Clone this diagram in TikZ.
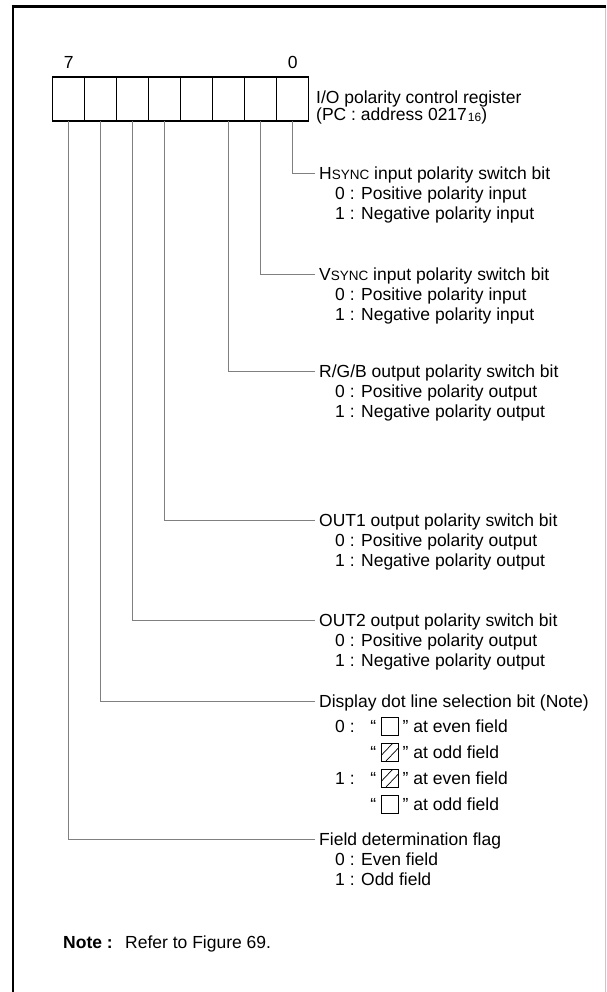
\documentclass[tikz,border=0pt]{standalone}
\usepackage{fontspec}
\setmainfont{Liberation Sans}
\usetikzlibrary{positioning,calc}
\definecolor{pcLead}{HTML}{808080}
\definecolor{pcEdge}{HTML}{C8C8C8}
\newcommand{\pcsc}[1]{{\fontsize{13.5}{20}\selectfont #1}}
\tikzset{
  bitcell/.style={draw, line width=1.4pt, minimum width=32pt, minimum height=44pt,
    inner sep=0pt, outer sep=0pt},
  bitnum/.style={inner sep=0pt, text height=12.5pt, text depth=0pt,
    font=\fontsize{17.5}{20}\selectfont},
  lbl/.style={anchor=west, inner xsep=4pt, inner ysep=0pt, text height=12.5pt,
    text depth=0pt, font=\fontsize{17.5}{20}\selectfont},
  lead/.style={draw=pcLead, line width=0.9pt},
  chip/.style={draw, line width=1pt, minimum width=17pt, minimum height=18pt,
    inner sep=0pt},
  chiphatch/.style={chip, path picture={
      \draw[line width=0.7pt]
        ($(path picture bounding box.south west)+(0pt,5.4pt)$) --
        ($(path picture bounding box.north west)+(12pt,0pt)$)
        ($(path picture bounding box.south west)+(5pt,0pt)$) --
        ($(path picture bounding box.south east)+(0pt,12.6pt)$);}}
}
\begin{document}
\begin{tikzpicture}[x=1pt, y=-1pt]
  \useasboundingbox (0,0) rectangle (606,992);
  % frame
  \draw[line width=3pt] (11.7,6.5) -- (606,6.5);
  \draw[line width=2.5pt] (13,5) -- (13,992);
  \draw[pcEdge, line width=1pt] (605.5,8) -- (605.5,992);

  % register
  \foreach \b in {0,...,7}
    \node[bitcell] (b\b) at ({292.7-32*\b},99) {};
  \node[bitnum, above=8pt of b7] (n7) {7};
  \node[bitnum, above=8pt of b0] (n0) {0};
  \node[lbl] (reg) at (312,97) {I/O polarity control register};
  \node[lbl] (regadr) at (312,114) {(PC : address 0217\kern1pt\raisebox{-1.5pt}{\fontsize{12}{12}\selectfont 16})};

  % bit 0
  \node[lbl] (hs) at (315,173) {H\pcsc{SYNC} input polarity switch bit};
  \node[lbl] (hs0) at (331,193) {0 : Positive polarity input};
  \node[lbl] (hs1) at (331,213) {1 : Negative polarity input};
  % bit 1
  \node[lbl] (vs) at (315,274) {V\pcsc{SYNC} input polarity switch bit};
  \node[lbl] (vs0) at (331,294) {0 : Positive polarity input};
  \node[lbl] (vs1) at (331,314) {1 : Negative polarity input};
  % bit 2
  \node[lbl] (rgb) at (315,371) {R/G/B output polarity switch bit};
  \node[lbl] (rgb0) at (331,391) {0 : Positive polarity output};
  \node[lbl] (rgb1) at (331,411) {1 : Negative polarity output};
  % bit 4
  \node[lbl] (o1) at (315,520) {OUT1 output polarity switch bit};
  \node[lbl] (o10) at (331,540) {0 : Positive polarity output};
  \node[lbl] (o11) at (331,560) {1 : Negative polarity output};
  % bit 5
  \node[lbl] (o2) at (315,620) {OUT2 output polarity switch bit};
  \node[lbl] (o20) at (331,640) {0 : Positive polarity output};
  \node[lbl] (o21) at (331,660) {1 : Negative polarity output};
  % bit 6
  \node[lbl] (dsp) at (315,701) {Display dot line selection bit (Note)};
  \node[lbl] (dsp0) at (331,726) {0 :};
  \node[chip] (c0a) at (389.5,726) {};
  \node[chiphatch] (c0b) at (389.5,752) {};
  \node[lbl] (dsp1) at (331,778) {1 :};
  \node[chiphatch] (c1a) at (389.5,778) {};
  \node[chip] (c1b) at (389.5,804) {};
  \foreach \c/\t in {c0a/even, c0b/odd, c1a/even, c1b/odd} {
    \node[lbl, anchor=east] at (\c.west) {“};
    \node[lbl] at (\c.east) {” at \t\ field};
  }
  % bit 7
  \node[lbl] (fld) at (315,839) {Field determination flag};
  \node[lbl] (fld0) at (331,859) {0 : Even field};
  \node[lbl] (fld1) at (331,879) {1 : Odd field};

  % leaders
  \draw[lead] (b0.south) |- (hs.west);
  \draw[lead] (b1.south) |- (vs.west);
  \draw[lead] (b2.south) |- (rgb.west);
  \draw[lead] (b4.south) |- (o1.west);
  \draw[lead] (b5.south) |- (o2.west);
  \draw[lead] (b6.south) |- (dsp.west);
  \draw[lead] (b7.south) |- (fld.west);

  % note
  \node[lbl, inner xsep=0pt] (note) at (63,942) {\textbf{Note :}};
  \node[lbl, right=8pt of note] (noteref) {Refer to Figure 69.};
\end{tikzpicture}
\end{document}
